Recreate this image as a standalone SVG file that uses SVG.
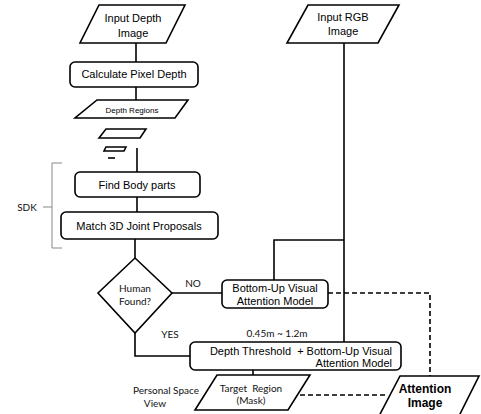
<svg xmlns="http://www.w3.org/2000/svg" width="481" height="414" viewBox="0 0 481 414">
<style>
.s{fill:#fff;stroke:#000;stroke-width:1.6}
.ln{fill:none;stroke:#000;stroke-width:1.6}
.ds{fill:none;stroke:#000;stroke-width:1.6;stroke-dasharray:5 3}
.t{font-family:"Liberation Sans",Arial,sans-serif;font-size:11px;fill:#000;text-anchor:middle;white-space:pre}
.c{font-family:Lato,"Open Sans",sans-serif;font-size:10px;fill:#111;text-anchor:middle;white-space:pre}
</style>
<rect width="481" height="414" fill="#fff"/>
<g id="connectors">
<line class="ln" x1="136" y1="43" x2="136" y2="62"/>
<line class="ln" x1="136" y1="87" x2="136" y2="100"/>
<line class="ln" x1="137" y1="148" x2="137" y2="172"/>
<line class="ln" x1="137" y1="197" x2="137" y2="212"/>
<line class="ln" x1="135" y1="239" x2="135" y2="258"/>
<line class="ln" x1="172" y1="293" x2="222" y2="293"/>
<polyline class="ln" points="135,333 135,356 190,356"/>
<line class="ln" x1="344" y1="43" x2="344" y2="342"/>
<polyline class="ln" points="274,280 274,240 344,240"/>
<line class="ln" x1="253" y1="370" x2="253" y2="375"/>
<polyline class="ds" points="328,293 430,293 430,376"/>
<line class="ds" x1="300" y1="395" x2="386" y2="395"/>
</g>
<g id="input-depth">
<polygon class="s" points="99,5 185,5 166,43 80,43"/>
<text class="t" x="133" y="22">Input Depth</text>
<text class="t" x="133" y="37">Image</text>
</g>
<g id="calc-pixel-depth">
<rect class="s" x="70" y="62" width="128" height="25" rx="5"/>
<text class="t" x="134" y="78">Calculate Pixel Depth</text>
</g>
<g id="depth-regions">
<polygon class="s" points="97,100 188,100 175,118 75,118"/>
<text class="t" x="132" y="113" style="font-size:8px">Depth Regions</text>
</g>
<g id="depth-regions-small">
<polygon class="s" points="106,129 146,129 140,138 99,138"/>
<polygon class="s" points="106,147 126,147 124,151 104,151"/>
<line class="ln" x1="108" y1="158" x2="115" y2="158"/>
</g>
<g id="find-body-parts">
<rect class="s" x="75" y="172" width="125" height="25" rx="5"/>
<text class="t" x="137" y="189">Find Body parts</text>
</g>
<g id="match-3d">
<rect class="s" x="61" y="212" width="157" height="27" rx="5"/>
<text class="t" x="139" y="230">Match 3D Joint Proposals</text>
</g>
<g id="sdk">
<path d="M62,163 L52,163 L52,248 L62,248 M52,207 L43,207" fill="none" stroke="#888" stroke-width="1"/>
<text class="c" x="27" y="211">SDK</text>
</g>
<g id="human-found">
<polygon class="s" points="135,258 172,293 135,333 98,293"/>
<text class="c" x="135" y="292">Human</text>
<text class="c" x="135" y="305">Found?</text>
</g>
<g id="bottom-up">
<rect class="s" x="222" y="280" width="106" height="28" rx="5"/>
<text class="t" x="275" y="292">Bottom-Up Visual</text>
<text class="t" x="275" y="305">Attention Model</text>
</g>
<g id="input-rgb">
<polygon class="s" points="308,5 399,5 378,43 287,43"/>
<text class="t" x="343" y="21">Input RGB</text>
<text class="t" x="343" y="35">Image</text>
</g>
<g id="depth-threshold">
<rect class="s" x="190" y="342" width="211" height="28" rx="5"/>
<text class="t" x="392" y="355" style="text-anchor:end">Depth Threshold  + Bottom-Up Visual</text>
<text class="t" x="392" y="367" style="text-anchor:end">Attention Model</text>
</g>
<g id="target-region">
<polygon class="s" points="217,375 310,375 288,410 195,410"/>
<text class="c" x="251" y="392">Target  Region</text>
<text class="c" x="251" y="404">(Mask)</text>
</g>
<g id="attention-image">
<polygon class="s" points="400,376 479,376 458,418 378,418"/>
<text class="t" x="425" y="393" style="font-weight:bold;font-size:12px">Attention</text>
<text class="t" x="425" y="407" style="font-weight:bold;font-size:12px">Image</text>
</g>
<g id="labels">
<text class="c" x="193" y="287">NO</text>
<text class="c" x="170" y="338">YES</text>
<text class="c" x="277" y="337">0.45m ~ 1.2m</text>
<text class="c" x="166" y="394">Personal Space</text>
<text class="c" x="155" y="407">View</text>
</g>
</svg>
